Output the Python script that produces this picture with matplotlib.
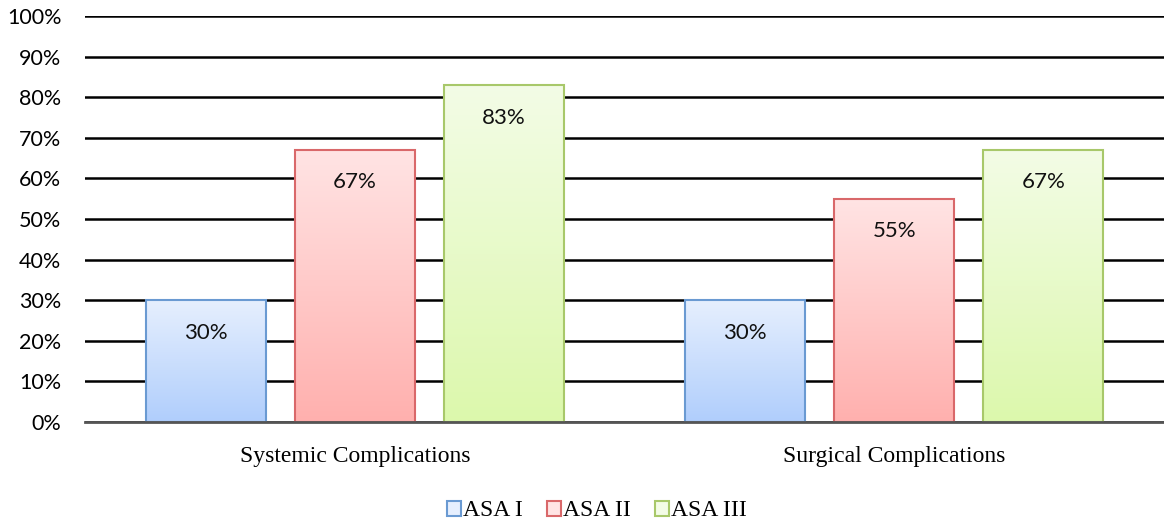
"""Complication rates by ASA class, grouped bar chart with gradient fills."""

import matplotlib.pyplot as plt
import numpy as np
from matplotlib.colors import LinearSegmentedColormap
from matplotlib.patches import Patch
from matplotlib.ticker import FuncFormatter, MultipleLocator

categories = ["Systemic Complications", "Surgical Complications"]
series = ["ASA I", "ASA II", "ASA III"]
asa1 = [30, 30]
asa2 = [67, 55]
asa3 = [83, 67]

# (top colour, bottom colour, edge colour) per series
styles = [
    ("#E6EFFE", "#B0CEFC", "#6A9AD2"),
    ("#FFE4E4", "#FFB0AE", "#D9686A"),
    ("#F3FCE6", "#DCF8AC", "#A8C86A"),
]

TICK_FONT = "Lato"
SERIF = "Liberation Serif"


def gradient_bar(ax, x, width, height, top, bottom, edge):
    cmap = LinearSegmentedColormap.from_list("g", [bottom, top])
    grad = np.linspace(0, 1, 256).reshape(-1, 1)
    ax.imshow(grad, cmap=cmap, origin="lower", aspect="auto",
              extent=[x - width / 2, x + width / 2, 0, height], zorder=2,
              interpolation="bicubic")
    ax.bar(x, height, width=width, facecolor="none", edgecolor=edge,
           linewidth=1.5, zorder=3)


def main() -> None:
    fig = plt.figure(figsize=(11.64, 5.23), dpi=100)
    ax = fig.add_axes([85 / 1164, 1 - 422 / 523, 1079 / 1164, 406 / 523])

    values = [asa1, asa2, asa3]
    width = 0.2225
    step = 0.2765
    x = np.arange(len(categories))
    for i, (vals, (top, bottom, edge)) in enumerate(zip(values, styles)):
        offset = (i - 1) * step
        for xi, v in zip(x, vals):
            gradient_bar(ax, xi + offset, width, v, top, bottom, edge)
            ax.text(xi + offset, v - 8.0, f"{v}%", ha="center", va="center",
                    fontsize=16, family=TICK_FONT, color="#111111", zorder=4)

    ax.set_xlim(-0.5, 1.5)
    ax.set_ylim(0, 100)
    ax.yaxis.set_major_locator(MultipleLocator(10))
    ax.yaxis.set_major_formatter(FuncFormatter(lambda v, _: f"{v:.0f}%"))
    ax.grid(axis="y", color="black", linewidth=1.8, zorder=1)
    ax.set_axisbelow(True)
    for side in ("top", "right", "left"):
        ax.spines[side].set_visible(False)
    ax.spines["bottom"].set_color("#555555")
    ax.spines["bottom"].set_linewidth(2)
    ax.spines["bottom"].set_zorder(5)
    ax.tick_params(axis="both", length=0)
    ax.tick_params(axis="y", pad=17)
    for lab in ax.get_yticklabels():
        lab.set_fontfamily(TICK_FONT)
        lab.set_fontsize(15.5)
    ax.set_xticks(x)
    ax.set_xticklabels(categories, fontfamily=SERIF, fontsize=17)
    ax.tick_params(axis="x", pad=17)

    handles = [Patch(facecolor=s[0], edgecolor=s[2], linewidth=1.5) for s in styles]
    fig.legend(handles, series, loc="center",
               bbox_to_anchor=(597 / 1164, 1 - 511 / 523),
               ncol=3, frameon=False, prop={"family": SERIF, "size": 17},
               handlelength=0.6, handleheight=0.6, handletextpad=0.1,
               columnspacing=1.0)

    fig.savefig("out.png", dpi=100)


if __name__ == "__main__":
    main()
